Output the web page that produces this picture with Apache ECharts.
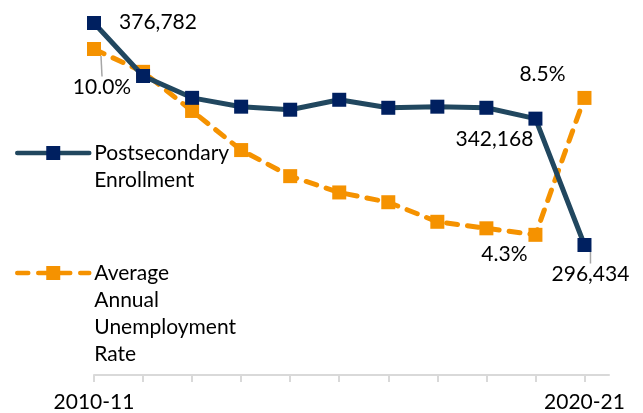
<!DOCTYPE html>
<html>
<head>
<meta charset="utf-8">
<script src="https://cdn.jsdelivr.net/npm/echarts@6/dist/echarts.min.js"></script>
<style>html,body{margin:0;padding:0;background:#fff}#c{width:643px;height:413px}</style>
</head>
<body>
<div id="c"></div>
<script>
var categories = ['2010-11','2011-12','2012-13','2013-14','2014-15','2015-16','2016-17','2017-18','2018-19','2019-20','2020-21'];
var enrollment = [376782, 357600, 349700, 346500, 345400, 349000, 346100, 346500, 346100, 342168, 296434];
var unemployment = [10.0, 9.3, 8.1, 6.9, 6.1, 5.6, 5.3, 4.7, 4.5, 4.3, 8.5];
var enrollLabelIdx = [0, 9, 10];
var unempLabelIdx = [0, 9, 10];
var tickLabels = ['2010-11', '2020-21'];

var FONT = 'Lato';
var NAVY_LINE = '#21475f';
var NAVY_MARK = '#002060';
var ORANGE = '#F59200';

function fmtNum(v){ return v.toLocaleString('en-US'); }

var enrollOffsets = {0: [64, -1], 9: [-41, 21], 10: [6, 29]};
var unempOffsets = {0: [8, 38], 9: [-31, 19], 10: [-42, -24]};

function buildSeriesData(vals, labelIdx, offsets, fmt, lineIdx) {
  return vals.map(function(v, i){
    var item = { value: [i, v] };
    if (labelIdx.indexOf(i) >= 0) {
      item.label = { show: true, formatter: fmt(v) };
      if (lineIdx.indexOf(i) >= 0) item.labelLine = { show: true };
    }
    return item;
  });
}

// pad multi-line legend text with blank lines so the first line sits level with the icon
function legendFmt(name) {
  var n = name.split('\n').length;
  var pad = '';
  for (var k = 1; k < n; k++) pad += ' \n';
  return pad + name;
}

var chart = echarts.init(document.getElementById('c'), null, {renderer: 'canvas'});
var legendCommon = {
  orient: 'vertical', left: 15, padding: 0,
  itemWidth: 72, itemHeight: 17.5, itemGap: 0,
  formatter: legendFmt,
  lineStyle: { width: 4.5, cap: 'round' },
  textStyle: { fontSize: 21, fontFamily: FONT, color: '#000', lineHeight: 27 }
};
var option = {
  animation: false,
  textStyle: { fontFamily: FONT },
  grid: { left: 94, right: 34, top: 20, bottom: 38 },
  xAxis: {
    type: 'value', min: 0, max: 10.5, interval: 1,
    splitLine: { show: false },
    axisLine: { show: true, lineStyle: { color: '#d9d9d9', width: 2 } },
    axisTick: { show: true, length: 7, lineStyle: { color: '#d9d9d9', width: 2 },
      customValues: categories.map(function(c, i){ return i; }) },
    axisLabel: { show: true, margin: 17, fontSize: 21, color: '#000', fontFamily: FONT,
      customValues: [0, categories.length - 1],
      formatter: function(v){ return categories[Math.round(v)]; } }
  },
  yAxis: [
    { type: 'value', min: 249390, max: 377870, show: false, splitLine: { show: false } },
    { type: 'value', min: 0, max: 10.89, show: false, splitLine: { show: false } }
  ],
  legend: [
    Object.assign({}, legendCommon, { top: 112.5, data: ['Postsecondary\nEnrollment'] }),
    Object.assign({}, legendCommon, { top: 178.5, data: ['Average\nAnnual\nUnemployment\nRate'] })
  ],
  series: [
    {
      name: 'Average\nAnnual\nUnemployment\nRate', type: 'line', yAxisIndex: 1, z: 2,
      data: buildSeriesData(unemployment, unempLabelIdx, unempOffsets, function(v){ return v.toFixed(1) + '%'; }, [0]),
      symbol: 'rect', symbolSize: 14,
      lineStyle: { color: ORANGE, width: 5, type: [11, 10], cap: 'round' },
      itemStyle: { color: ORANGE },
      label: { position: 'inside', fontSize: 21, color: '#000', fontFamily: FONT },
      labelLine: { show: false, lineStyle: { color: '#a6a6a6', width: 1.5 } },
      labelLayout: function(p){ var o = unempOffsets[p.dataIndex] || [0,0]; return { dx: o[0], dy: o[1] }; }
    },
    {
      name: 'Postsecondary\nEnrollment', type: 'line', yAxisIndex: 0, z: 3,
      data: buildSeriesData(enrollment, enrollLabelIdx, enrollOffsets, fmtNum, [10]),
      symbol: 'rect', symbolSize: 14,
      lineStyle: { color: NAVY_LINE, width: 5 },
      itemStyle: { color: NAVY_MARK },
      label: { position: 'inside', fontSize: 21, color: '#000', fontFamily: FONT },
      labelLine: { show: false, lineStyle: { color: '#a6a6a6', width: 1.5 } },
      labelLayout: function(p){ var o = enrollOffsets[p.dataIndex] || [0,0]; return { dx: o[0], dy: o[1] }; }
    }
  ]
};
chart.setOption(option);
</script>
</body>
</html>
